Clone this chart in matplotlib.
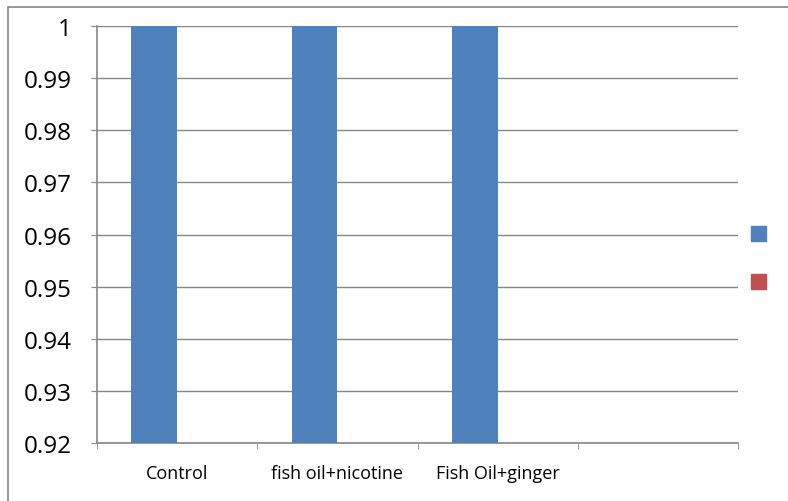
import numpy as np
import matplotlib.pyplot as plt
from matplotlib.patches import Rectangle

categories = ["Control", "fish oil+nicotine", "Fish Oil+ginger", ""]
series1 = [1, 1, 1, np.nan]
series2 = [0, 0, 0, np.nan]
yticks = [0.92, 0.93, 0.94, 0.95, 0.96, 0.97, 0.98, 0.99, 1]
ytick_labels = ["0.92", "0.93", "0.94", "0.95", "0.96", "0.97", "0.98", "0.99", "1"]

blue = "#4f81bd"
red = "#c0504d"
grey = "#868686"

fig = plt.figure(figsize=(7.88, 5.02), dpi=100)
ax = fig.add_axes([97/788, 58/502, 641/788, 417/502])

# clustered bars, excel-style gap width 150%
bw = 1 / 3.5
x = np.arange(len(categories))
ax.bar(x - bw / 2, series1, width=bw, color=blue, zorder=3)
ax.bar(x + bw / 2, series2, width=bw, color=red, zorder=3)

ax.set_xlim(-0.5, len(categories) - 0.5)
ax.set_ylim(0.92, 1.0)
ax.set_yticks(yticks)
ax.set_yticklabels(ytick_labels, fontsize=17.5, family="Open Sans")
ax.yaxis.grid(True, color=grey, linewidth=1, zorder=0)

ax.set_xticks(x)
ax.set_xticklabels(categories, fontsize=13, family="Open Sans")
ax.set_xticks(np.arange(len(categories) + 1) - 0.5, minor=True)
ax.tick_params(axis="x", which="major", length=0, pad=15)
ax.tick_params(axis="x", which="minor", length=4, color=grey, direction="out")
ax.tick_params(axis="y", length=4, color=grey, direction="out", pad=14)

for side in ["top", "right"]:
    ax.spines[side].set_visible(False)
for side in ["left", "bottom"]:
    ax.spines[side].set_color(grey)
    ax.spines[side].set_linewidth(1.2)

# legend squares with no labels
for yy, c in [(227, blue), (275, red)]:
    fig.patches.append(Rectangle((751/788, 1 - (yy + 15)/502), 15/788, 15/502,
                                 transform=fig.transFigure, color=c))

# chart area border
fig.patches.append(Rectangle((8/788, -0.1), 1.1, 1 - 8/502 + 0.1,
                             transform=fig.transFigure, fill=False,
                             edgecolor=grey, linewidth=1.2))

fig.savefig("out.png", dpi=100)
